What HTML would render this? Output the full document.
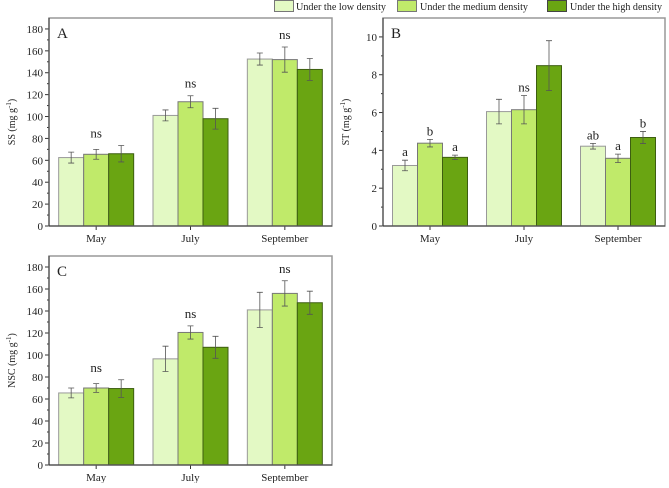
<!DOCTYPE html>
<html><head><meta charset="utf-8"><style>
body{margin:0;background:#fff;}
svg text{font-family:"Liberation Serif",serif;fill:#222;}
</style></head><body>
<svg id="fig" width="669" height="483" xmlns="http://www.w3.org/2000/svg">
<g>
 <g><rect x="274.5" y="0.5" width="19" height="11" fill="#e3f9c4" stroke="#777"/><text x="296" y="10" font-size="11" textLength="90" lengthAdjust="spacingAndGlyphs">Under the low density</text></g>
 <g><rect x="397.5" y="0.5" width="19" height="11" fill="#c0ea6a" stroke="#777"/><text x="420" y="10" font-size="11" textLength="108" lengthAdjust="spacingAndGlyphs">Under the medium density</text></g>
 <g><rect x="547.5" y="0.5" width="19" height="11" fill="#6aa512" stroke="#444"/><text x="570" y="10" font-size="11" textLength="92" lengthAdjust="spacingAndGlyphs">Under the high density</text></g>
</g>
</svg>
<script>
const categories=["May","July","September"];
const ssLow=[62.5,101,152.5], ssMed=[65.5,113.5,152], ssHigh=[66,98,143];
const ssLowErr=[5,5,5.5], ssMedErr=[4.5,5.5,11.5], ssHighErr=[7.5,9.5,10];
const ssLabels=["ns","ns","ns"];
const stLow=[3.2,6.05,4.22], stMed=[4.38,6.15,3.58], stHigh=[3.63,8.48,4.68];
const stLowErr=[0.28,0.65,0.15], stMedErr=[0.2,0.75,0.22], stHighErr=[0.12,1.32,0.32];
const stLabels=[["a","b","a"],["","ns",""],["ab","a","b"]];
const nscLow=[65.5,96.5,141], nscMed=[70,120.5,156], nscHigh=[69.5,107,147.5];
const nscLowErr=[4.5,11.5,16], nscMedErr=[4,6,11.5], nscHighErr=[8,10,10.5];
const nscLabels=["ns","ns","ns"];
const ssTicks=[0,20,40,60,80,100,120,140,160,180];
const stTicks=[0,2,4,6,8,10];
const colors=["#e3f9c4","#c0ea6a","#6aa512"];
const strokes=["#999","#777","#3d5e10"];
const NS="http://www.w3.org/2000/svg";
const svg=document.getElementById('fig');
function mk(tag,attrs,parent,txt){const e=document.createElementNS(NS,tag);for(const k in attrs)e.setAttribute(k,attrs[k]);if(txt!==undefined)e.textContent=txt;parent.appendChild(e);return e;}
function panel(o){
 const g=mk('g',{},svg);
 
 
 const y=v=>o.y0-(v/o.max)*(o.y0-o.top);
 const bw=(o.x1-o.x0)/3;
 const x=(i,s)=>o.x0+bw*i+bw/2-37.5+25*s;
 o.ticks.forEach((t,k)=>{
  const yy=y(t);
  const tl=mk('line',{x1:o.x0-4,x2:o.x0,y1:yy,y2:yy,stroke:'#333'},g);
  
  
  const tt=mk('text',{x:o.x0-6,y:yy+4,'font-size':11,'text-anchor':'end'},g,String(t));
  
  
  if(k<o.ticks.length-1){const ym=y((t+o.ticks[k+1])/2);mk('line',{x1:o.x0-2,x2:o.x0,y1:ym,y2:ym,stroke:'#333'},g);}
 });
 const series=[o.low,o.med,o.high], errs=[o.lowE,o.medE,o.highE];
 categories.forEach((c,i)=>{
  series.forEach((s,j)=>{
   const r=mk('rect',{x:x(i,j),y:y(s[i]),width:25,height:o.y0-y(s[i]),fill:colors[j],stroke:strokes[j],'stroke-width':1},g);
   
   
   const cx=x(i,j)+12.5,e=errs[j][i];
   const eb=mk('path',{d:`M${cx},${y(s[i]+e)}V${y(s[i]-e)}M${cx-3},${y(s[i]+e)}H${cx+3}M${cx-3},${y(s[i]-e)}H${cx+3}`,stroke:'#555','stroke-width':0.8,fill:'none'},g);
   
   
   if(o.letters){const L=o.letters[i][j];if(L){const lt=mk('text',{x:cx,y:y(s[i]+e)-4,'font-size':13,'text-anchor':'middle'},g,L);
    
    }}
  });
  if(o.ns){const top=Math.max(...series.map((s,j)=>s[i]+errs[j][i]));
   const nt=mk('text',{x:o.x0+bw*i+bw/2,y:y(top)-8,'font-size':13,'text-anchor':'middle'},g,o.ns[i]);
   
   }
  const xl=o.x0+bw*i+bw/2;
  mk('line',{x1:xl,x2:xl,y1:o.y0,y2:o.y0+4,stroke:'#333'},g);
  const ct=mk('text',{x:xl,y:o.y0+16,'font-size':11,'text-anchor':'middle'},g,c);
  
  
 });
 const box=mk('rect',{x:o.x0,y:o.top,width:o.x1-o.x0,height:o.y0-o.top,fill:'none',stroke:'#999','stroke-width':1.5},g);
 
 
 mk('line',{x1:o.x0,x2:o.x1,y1:o.y0,y2:o.y0,stroke:'#333'},g);
 mk('line',{x1:o.x0,x2:o.x0,y1:o.top,y2:o.y0,stroke:'#333'},g);
 const pl=mk('text',{x:o.x0+8,y:o.top+20,'font-size':15},g,o.letter);
 
 
 const yt=mk('text',{transform:`translate(${o.x0-34},${(o.y0+o.top)/2}) rotate(-90)`,'font-size':10,'text-anchor':'middle'},g);
 
 
 yt.innerHTML=o.ylab+' (mg g<tspan dy="-4" font-size="7">-1</tspan><tspan dy="4">)</tspan>';
}
panel({name:'panel-a-ss',x0:49,x1:332,top:18,y0:226,max:190,ticks:ssTicks,low:ssLow,med:ssMed,high:ssHigh,lowE:ssLowErr,medE:ssMedErr,highE:ssHighErr,ns:ssLabels,letter:'A',ylab:'SS'});
panel({name:'panel-b-st',x0:383,x1:665,top:18,y0:226,max:11,ticks:stTicks,low:stLow,med:stMed,high:stHigh,lowE:stLowErr,medE:stMedErr,highE:stHighErr,letters:stLabels,letter:'B',ylab:'ST'});
panel({name:'panel-c-nsc',x0:49,x1:332,top:256,y0:465,max:190,ticks:ssTicks,low:nscLow,med:nscMed,high:nscHigh,lowE:nscLowErr,medE:nscMedErr,highE:nscHighErr,ns:nscLabels,letter:'C',ylab:'NSC'});
</script>
</body></html>
